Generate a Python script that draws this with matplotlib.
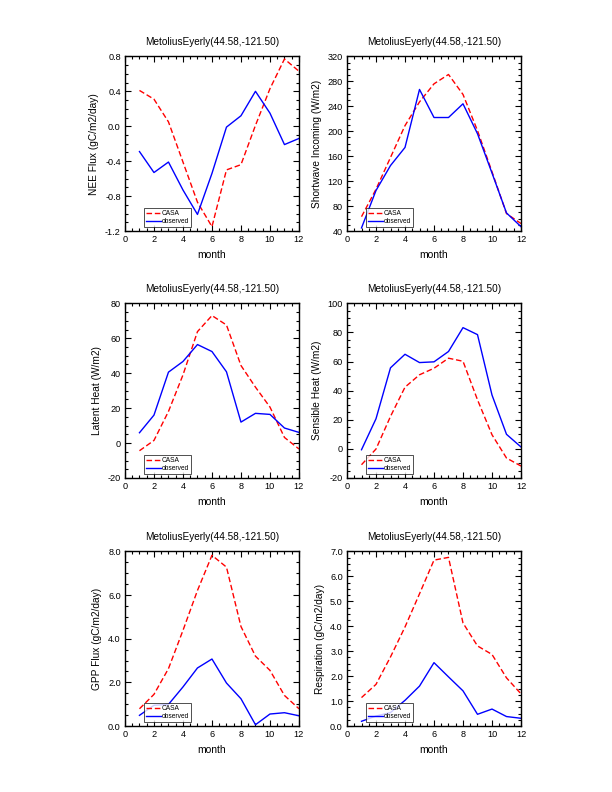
import numpy as np
import matplotlib
matplotlib.use("Agg")
from matplotlib import pyplot as plt
from matplotlib.ticker import MultipleLocator, FormatStrFormatter

plt.rcParams['font.family'] = ['Liberation Sans', 'DejaVu Sans']

months = np.arange(1, 13)
site = "MetoliusEyerly(44.58,-121.50)"

nee_casa = [0.41, 0.31, 0.05, -0.41, -0.87, -1.15, -0.50, -0.44, 0.01, 0.43, 0.77, 0.63]
nee_obs = [-0.29, -0.53, -0.41, -0.73, -1.01, -0.54, -0.01, 0.12, 0.40, 0.15, -0.21, -0.14]

sw_casa = [63, 107, 158, 209, 247, 276, 291, 259, 201, 135, 68, 52]
sw_obs = [45, 105, 145, 174, 267, 222, 222, 244, 196, 133, 69, 47]

lh_casa = [-4.4, 1.5, 18.1, 39.0, 63.8, 73.0, 67.6, 44.4, 32.0, 20.6, 3.2, -3.4]
lh_obs = [5.9, 16.0, 40.6, 46.7, 56.4, 52.4, 40.8, 12.0, 17.0, 16.4, 8.6, 6.1]

sh_casa = [-10.9, -0.1, 22.3, 42.4, 50.9, 55.4, 62.3, 60.2, 33.7, 9.7, -6.3, -11.8]
sh_obs = [-0.6, 20.7, 55.7, 65.0, 59.3, 59.8, 66.9, 83.3, 78.5, 37.0, 10.0, 1.3]

gpp_casa = [0.79, 1.45, 2.63, 4.38, 6.21, 7.82, 7.28, 4.56, 3.20, 2.55, 1.40, 0.79]
gpp_obs = [0.49, 0.95, 0.99, 1.79, 2.66, 3.07, 1.97, 1.25, 0.06, 0.55, 0.61, 0.47]

resp_casa = [1.14, 1.67, 2.77, 3.97, 5.30, 6.65, 6.76, 4.13, 3.21, 2.87, 1.93, 1.29]
resp_obs = [0.19, 0.40, 0.54, 1.03, 1.60, 2.54, 1.97, 1.41, 0.47, 0.68, 0.38, 0.31]

panels = [
    (nee_casa, nee_obs, "NEE Flux (gC/m2/day)", (-1.2, 0.8), 0.4, 0.1, "%.1f"),
    (sw_casa, sw_obs, "Shortwave Incoming (W/m2)", (40, 320), 40, 10, "%d"),
    (lh_casa, lh_obs, "Latent Heat (W/m2)", (-20, 80), 20, 5, "%d"),
    (sh_casa, sh_obs, "Sensible Heat (W/m2)", (-20, 100), 20, 5, "%d"),
    (gpp_casa, gpp_obs, "GPP Flux (gC/m2/day)", (0, 8), 2, 0.5, "%.1f"),
    (resp_casa, resp_obs, "Respiration (gC/m2/day)", (0, 7), 1, 0.25, "%.1f"),
]

fig = plt.figure(figsize=(6.12, 7.92), dpi=100)
lefts = [0.2042, 0.567]
bottoms = [0.7083, 0.3965, 0.0833]
w, h = 0.2843, 0.2205

for i, (casa, obs, ylab, ylim, major, minor, fmt) in enumerate(panels):
    ax = fig.add_axes([lefts[i % 2], bottoms[i // 2], w, h])
    ax.plot(months, casa, color='red', lw=1.0, dashes=(4, 2), label='CASA')
    ax.plot(months, obs, color='blue', lw=1.0, label='observed')
    ax.set_xlim(0, 12)
    ax.set_ylim(*ylim)
    ax.xaxis.set_major_locator(MultipleLocator(2))
    ax.xaxis.set_minor_locator(MultipleLocator(0.5))
    ax.yaxis.set_major_locator(MultipleLocator(major))
    ax.yaxis.set_minor_locator(MultipleLocator(minor))
    ax.yaxis.set_major_formatter(FormatStrFormatter(fmt))
    ax.tick_params(which='both', direction='in', top=True, right=True, labelsize=6.6, width=0.8)
    ax.tick_params(which='major', length=4.5, pad=3)
    ax.tick_params(which='minor', length=2.5)
    for s in ax.spines.values():
        s.set_linewidth(1.0)
    ax.set_title(site, fontsize=7.2, pad=8)
    ax.set_xlabel("month", fontsize=7.5)
    ax.set_ylabel(ylab, fontsize=7.3)
    leg = ax.legend(loc='lower left', bbox_to_anchor=(0.11, 0.025), fontsize=4.8,
                    frameon=True, fancybox=False, handlelength=2.3, handletextpad=0.1,
                    borderpad=0.25, labelspacing=0.15, borderaxespad=0)
    leg.get_frame().set_edgecolor('black')
    leg.get_frame().set_linewidth(0.6)

fig.savefig("out.png", dpi=100)
